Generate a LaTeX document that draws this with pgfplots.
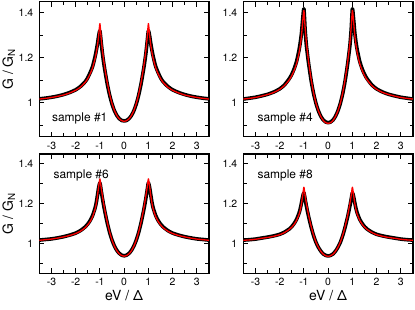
\documentclass[border=0pt]{standalone}
\usepackage{fontspec}
\setmainfont{TeX Gyre Heros}
\usepackage{pgfplots}
\usepackage{pgfplotstable}
\pgfplotsset{compat=1.18}

\pgfplotstableread{
x b r
-3.5 1.018 1.017
-3.25 1.021 1.020
-3 1.025 1.024
-2.75 1.030 1.029
-2.5 1.037 1.035
-2.25 1.046 1.044
-2 1.058 1.056
-1.8 1.073 1.070
-1.6 1.095 1.092
-1.5 1.112 1.108
-1.4 1.135 1.129
-1.3 1.162 1.156
-1.2 1.205 1.196
-1.15 1.232 1.222
-1.1 1.262 1.255
-1.05 1.298 1.300
-1 1.320 1.352
-0.95 1.272 1.290
-0.9 1.223 1.237
-0.85 1.183 1.194
-0.8 1.148 1.156
-0.7 1.086 1.092
-0.6 1.035 1.039
-0.5 0.995 0.997
-0.4 0.965 0.966
-0.3 0.944 0.944
-0.2 0.930 0.929
-0.1 0.922 0.921
0 0.920 0.918
0.1 0.922 0.921
0.2 0.930 0.929
0.3 0.944 0.944
0.4 0.965 0.966
0.5 0.995 0.997
0.6 1.035 1.039
0.7 1.086 1.092
0.8 1.148 1.156
0.85 1.183 1.194
0.9 1.223 1.237
0.95 1.272 1.290
1 1.320 1.352
1.05 1.298 1.300
1.1 1.262 1.255
1.15 1.232 1.222
1.2 1.205 1.196
1.3 1.162 1.156
1.4 1.135 1.129
1.5 1.112 1.108
1.6 1.095 1.092
1.8 1.073 1.070
2 1.058 1.056
2.25 1.046 1.044
2.5 1.037 1.035
2.75 1.030 1.029
3 1.025 1.024
3.25 1.021 1.020
3.5 1.018 1.017
}\sA

\pgfplotstableread{
x b r
-3.5 1.017 1.017
-3.25 1.021 1.020
-3 1.025 1.024
-2.75 1.031 1.030
-2.5 1.038 1.037
-2.25 1.048 1.046
-2 1.062 1.060
-1.8 1.080 1.077
-1.6 1.108 1.103
-1.5 1.127 1.121
-1.4 1.152 1.145
-1.3 1.185 1.175
-1.2 1.235 1.222
-1.15 1.268 1.255
-1.1 1.310 1.298
-1.05 1.372 1.360
-1 1.418 1.410
-0.95 1.325 1.335
-0.9 1.258 1.270
-0.85 1.212 1.222
-0.8 1.170 1.178
-0.7 1.098 1.104
-0.6 1.041 1.044
-0.5 0.997 0.998
-0.4 0.964 0.964
-0.3 0.940 0.939
-0.2 0.924 0.922
-0.1 0.915 0.912
0 0.912 0.909
0.1 0.915 0.912
0.2 0.924 0.922
0.3 0.940 0.939
0.4 0.964 0.964
0.5 0.997 0.998
0.6 1.041 1.044
0.7 1.098 1.104
0.8 1.170 1.178
0.85 1.212 1.222
0.9 1.258 1.270
0.95 1.325 1.335
1 1.418 1.410
1.05 1.372 1.360
1.1 1.310 1.298
1.15 1.268 1.255
1.2 1.235 1.222
1.3 1.185 1.175
1.4 1.152 1.145
1.5 1.127 1.121
1.6 1.108 1.103
1.8 1.080 1.077
2 1.062 1.060
2.25 1.048 1.046
2.5 1.038 1.037
2.75 1.031 1.030
3 1.025 1.024
3.25 1.021 1.020
3.5 1.017 1.017
}\sB

\pgfplotstableread{
x b r
-3.5 1.017 1.016
-3.25 1.020 1.019
-3 1.023 1.022
-2.75 1.028 1.027
-2.5 1.034 1.033
-2.25 1.042 1.040
-2 1.052 1.050
-1.8 1.065 1.062
-1.6 1.084 1.080
-1.5 1.098 1.094
-1.4 1.116 1.111
-1.3 1.141 1.135
-1.2 1.178 1.172
-1.15 1.205 1.200
-1.1 1.243 1.240
-1.05 1.282 1.288
-1 1.305 1.325
-0.95 1.268 1.283
-0.9 1.230 1.243
-0.85 1.195 1.205
-0.8 1.163 1.170
-0.7 1.105 1.109
-0.6 1.056 1.058
-0.5 1.017 1.017
-0.4 0.987 0.986
-0.3 0.965 0.963
-0.2 0.950 0.948
-0.1 0.941 0.939
0 0.938 0.936
0.1 0.941 0.939
0.2 0.950 0.948
0.3 0.965 0.963
0.4 0.987 0.986
0.5 1.017 1.017
0.6 1.056 1.058
0.7 1.105 1.109
0.8 1.163 1.170
0.85 1.195 1.205
0.9 1.230 1.243
0.95 1.268 1.283
1 1.305 1.325
1.05 1.282 1.288
1.1 1.243 1.240
1.15 1.205 1.200
1.2 1.178 1.172
1.3 1.141 1.135
1.4 1.116 1.111
1.5 1.098 1.094
1.6 1.084 1.080
1.8 1.065 1.062
2 1.052 1.050
2.25 1.042 1.040
2.5 1.034 1.033
2.75 1.028 1.027
3 1.023 1.022
3.25 1.020 1.019
3.5 1.017 1.016
}\sC

\pgfplotstableread{
x b r
-3.5 1.017 1.016
-3.25 1.019 1.018
-3 1.022 1.021
-2.75 1.027 1.026
-2.5 1.032 1.030
-2.25 1.038 1.036
-2 1.046 1.044
-1.8 1.057 1.055
-1.6 1.073 1.071
-1.5 1.085 1.082
-1.4 1.101 1.097
-1.3 1.122 1.117
-1.2 1.153 1.146
-1.15 1.175 1.168
-1.1 1.204 1.200
-1.05 1.236 1.243
-1 1.255 1.283
-0.95 1.223 1.241
-0.9 1.190 1.203
-0.85 1.160 1.170
-0.8 1.132 1.138
-0.7 1.082 1.085
-0.6 1.039 1.041
-0.5 1.005 1.006
-0.4 0.980 0.980
-0.3 0.961 0.960
-0.2 0.947 0.946
-0.1 0.940 0.938
0 0.937 0.935
0.1 0.940 0.938
0.2 0.947 0.946
0.3 0.961 0.960
0.4 0.980 0.980
0.5 1.005 1.006
0.6 1.039 1.041
0.7 1.082 1.085
0.8 1.132 1.138
0.85 1.160 1.170
0.9 1.190 1.203
0.95 1.223 1.241
1 1.255 1.283
1.05 1.236 1.243
1.1 1.204 1.200
1.15 1.175 1.168
1.2 1.153 1.146
1.3 1.122 1.117
1.4 1.101 1.097
1.5 1.085 1.082
1.6 1.073 1.071
1.8 1.057 1.055
2 1.046 1.044
2.25 1.038 1.036
2.5 1.032 1.030
2.75 1.027 1.026
3 1.022 1.021
3.25 1.019 1.018
3.5 1.017 1.016
}\sD

\pgfplotsset{panel/.style={
  scale only axis, width=169.7bp, anchor=south west,
  xmin=-3.5, xmax=3.5, ymin=0.85, ymax=1.45,
  xtick={-3,-2,-1,0,1,2,3}, xticklabels={-3,-2,-1,0,1,2,3},
  minor xtick={-2.5,-1.5,-0.5,0.5,1.5,2.5},
  ytick={1,1.2,1.4}, yticklabels={1,1.2,1.4},
  minor ytick={0.9,1.1,1.3},
  tick align=inside,
  major tick length=5bp, minor tick length=3.5bp,
  axis line style={line width=1.3bp},
  tick style={black, line width=0.9bp},
  tick label style={font=\fontsize{10.5}{12}\selectfont},
  xticklabel style={yshift=-1.5bp},
  yticklabel style={xshift=-2.5bp},
  label style={font=\fontsize{14}{16}\selectfont},
  ylabel style={at={(axis description cs:-0.18,0.5)}, anchor=center},
  xlabel style={at={(axis description cs:0.5,-0.19)}, anchor=center},
}}
\tikzset{blk/.style={black, line width=3.6bp, smooth, tension=0.4, line join=round},
  rd/.style={red, line width=1.3bp, smooth, tension=0.4, line join=round},
  samp/.style={anchor=west, inner sep=0pt, font=\fontsize{12}{14}\selectfont}}

\begin{document}
\begin{tikzpicture}
\path[use as bounding box] (0,0) rectangle (415bp,310bp);
\begin{axis}[panel, height=135.2bp, at={(39.3bp,173.3bp)}, ylabel={G / G\textsubscript{N}}]
\addplot[blk] table[x=x,y=b]{\sA};
\addplot[rd] table[x=x,y=r]{\sA};
\node[samp] at (axis cs:-2.98,0.933) {sample \#1};
\end{axis}
\begin{axis}[panel, height=135.2bp, at={(243.3bp,173.3bp)}]
\addplot[blk] table[x=x,y=b]{\sB};
\addplot[rd] table[x=x,y=r]{\sB};
\node[samp] at (axis cs:-2.92,0.933) {sample \#4};
\end{axis}
\begin{axis}[panel, height=119.3bp, at={(39.3bp,36.7bp)}, ylabel={G / G\textsubscript{N}}, xlabel={eV / Δ}]
\addplot[blk] table[x=x,y=b]{\sC};
\addplot[rd] table[x=x,y=r]{\sC};
\node[samp] at (axis cs:-2.92,1.342) {sample \#6};
\end{axis}
\begin{axis}[panel, height=119.3bp, at={(243.3bp,36.7bp)}, xlabel={eV / Δ}]
\addplot[blk] table[x=x,y=b]{\sD};
\addplot[rd] table[x=x,y=r]{\sD};
\node[samp] at (axis cs:-2.92,1.342) {sample \#8};
\end{axis}
\end{tikzpicture}
\end{document}
